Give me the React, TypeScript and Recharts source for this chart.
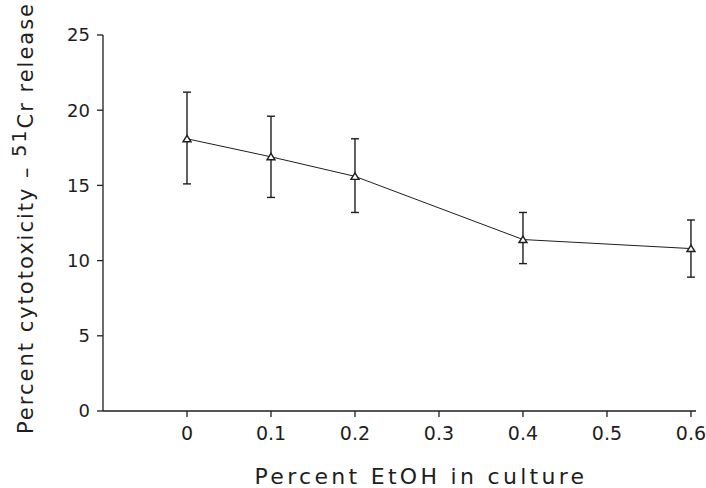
import React from 'react';
import { LineChart, Line, XAxis, YAxis, ErrorBar } from 'recharts';

// values
const ethanol = [0, 0.1, 0.2, 0.4, 0.6];
const cytotoxicity = [18.1, 16.9, 15.6, 11.4, 10.8];
const upperBar = [21.2, 19.6, 18.1, 13.2, 12.7];
const lowerBar = [15.1, 14.2, 13.2, 9.8, 8.9];

const xTicks = [0, 0.1, 0.2, 0.3, 0.4, 0.5, 0.6];
const yTicks = [0, 5, 10, 15, 20, 25];

const data = ethanol.map((x, i) => ({
  x,
  y: cytotoxicity[i],
  err: [cytotoxicity[i] - lowerBar[i], upperBar[i] - cytotoxicity[i]],
}));

const INK = '#1e1e1e';
const FONT = '"DejaVu Sans", Verdana, sans-serif';

const Triangle = (props: any) => {
  const { cx, cy } = props;
  if (cx == null || cy == null) return null;
  return (
    <path
      d={`M${cx},${cy - 3.5} L${cx + 4},${cy + 3} L${cx - 4},${cy + 3} Z`}
      fill="#fff"
      stroke={INK}
      strokeWidth={1.4}
    />
  );
};

const YLabel = () => (
  <text
    transform="translate(33, 218) rotate(-90)"
    textAnchor="middle"
    fill={INK}
    fontFamily={FONT}
    fontSize={21}
    letterSpacing={2}
  >
    <tspan>Percent cytotoxicity – </tspan>
    <tspan dy={-7} fontSize={19}>51</tspan>
    <tspan dy={7}>Cr release</tspan>
  </text>
);

const XLabel = () => (
  <text
    x={421}
    y={484}
    textAnchor="middle"
    fill={INK}
    fontFamily={FONT}
    fontSize={22}
    letterSpacing={3.3}
  >
    Percent EtOH in culture
  </text>
);

export default function App() {
  return (
    <div style={{ position: 'absolute', left: 0, top: 0, background: '#fff' }}>
      <LineChart
        width={706}
        height={488}
        data={data}
        margin={{ top: 35, right: 10, bottom: 47, left: 0 }}
      >
        <XAxis
          dataKey="x"
          type="number"
          domain={[-0.1, 0.606]}
          ticks={xTicks}
          height={30}
          tickSize={6}
          tickMargin={10}
          tick={{ fill: INK, fontSize: 19, fontFamily: FONT }}
          stroke={INK}
          strokeWidth={1.3}
          label={<XLabel />}
        />
        <YAxis
          type="number"
          domain={[0, 25]}
          ticks={yTicks}
          width={103}
          tickSize={6}
          tickMargin={7}
          tick={{ fill: INK, fontSize: 18, fontFamily: FONT }}
          stroke={INK}
          strokeWidth={1.3}
          label={<YLabel />}
        />
        <Line
          type="linear"
          dataKey="y"
          stroke={INK}
          strokeWidth={1}
          dot={<Triangle />}
          isAnimationActive={false}
        >
          <ErrorBar dataKey="err" width={4} stroke={INK} strokeWidth={1.4} direction="y" />
        </Line>
      </LineChart>
    </div>
  );
}
